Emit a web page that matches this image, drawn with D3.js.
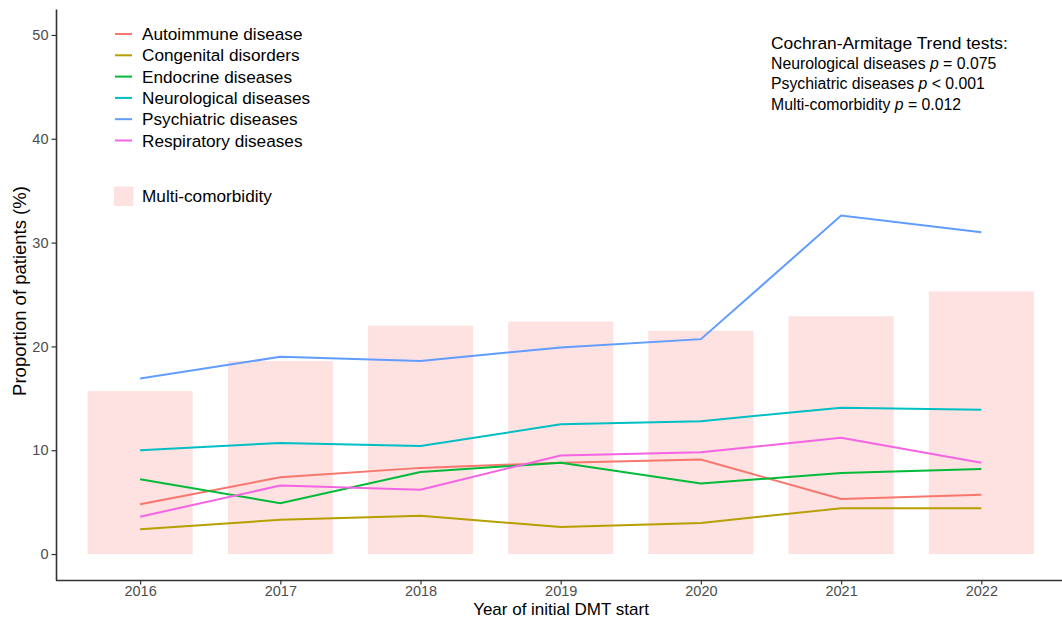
<!DOCTYPE html>
<html>
<head>
<meta charset="utf-8">
<script src="https://cdn.jsdelivr.net/npm/d3@7"></script>
<style>
  html, body { margin: 0; padding: 0; background: #fff; }
  svg { display: block; font-family: Arial, "Liberation Sans", sans-serif; }
</style>
</head>
<body>
<svg id="chart" width="1062" height="618"></svg>
<script>
// Years of initial DMT start
const years = ["2016", "2017", "2018", "2019", "2020", "2021", "2022"];

// Proportion of patients (%) with each comorbidity, per year
const autoimmune   = [4.8, 7.4, 8.3, 8.8, 9.1, 5.3, 5.7];
const congenital   = [2.4, 3.3, 3.7, 2.6, 3.0, 4.4, 4.4];
const endocrine    = [7.2, 4.9, 7.9, 8.8, 6.8, 7.8, 8.2];
const neurological = [10.0, 10.7, 10.4, 12.5, 12.8, 14.1, 13.9];
const psychiatric  = [16.9, 19.0, 18.6, 19.9, 20.7, 32.6, 31.0];
const respiratory  = [3.6, 6.6, 6.2, 9.5, 9.8, 11.2, 8.8];

// Multi-comorbidity (%), drawn as bars
const multiComorbidity = [15.7, 18.6, 22.0, 22.4, 21.5, 22.9, 25.3];

const seriesNames = ["Autoimmune disease", "Congenital disorders", "Endocrine diseases",
                     "Neurological diseases", "Psychiatric diseases", "Respiratory diseases"];
const seriesValues = [autoimmune, congenital, endocrine, neurological, psychiatric, respiratory];
const seriesColors = ["#F8766D", "#B79F00", "#00BA38", "#00BFC4", "#619CFF", "#F564E3"];

const yTicks = [0, 10, 20, 30, 40, 50];

const svg = d3.select("#chart");
const margin = { left: 56, top: 9, bottom: 580 };

// Discrete x positions with 0.6-step padding on each side
const step = 140.2;
const x0 = margin.left + 0.6 * step;
const x = d3.scaleLinear().domain([0, years.length - 1]).range([x0, x0 + step * (years.length - 1)]);
const y = d3.scaleLinear().domain([-2.5, 52.5]).range([margin.bottom, margin.top]);

const barFill = "#FDE2E1";
const barW = step * 0.75;

// Bars
svg.append("g").selectAll("rect")
  .data(multiComorbidity)
  .join("rect")
  .attr("x", (d, i) => x(i) - barW / 2)
  .attr("width", barW)
  .attr("y", d => y(d))
  .attr("height", d => y(0) - y(d))
  .attr("fill", barFill);

// Lines
const line = d3.line().x((d, i) => x(i)).y(d => y(d));
svg.append("g").selectAll("path")
  .data(seriesValues)
  .join("path")
  .attr("d", d => line(d))
  .attr("fill", "none")
  .attr("stroke", (d, i) => seriesColors[i])
  .attr("stroke-width", 2);

// Axes
const axisColor = "#333333";
const tickText = "#4D4D4D";
const yAxis = svg.append("g")
  .attr("transform", `translate(${margin.left},0)`)
  .call(d3.axisLeft(y).tickValues(yTicks).tickSize(4.5).tickPadding(3).tickSizeOuter(0));
const xAxis = svg.append("g")
  .attr("transform", `translate(0,${margin.bottom})`)
  .call(d3.axisBottom(x).tickValues(d3.range(years.length)).tickFormat(i => years[i])
        .tickSize(4.5).tickPadding(3).tickSizeOuter(0));
xAxis.select(".domain").attr("d", `M${margin.left},0.5H1062`);
[yAxis, xAxis].forEach(g => {
  g.select(".domain").attr("stroke", axisColor).attr("stroke-width", 1.6);
  g.selectAll(".tick line").attr("stroke", axisColor).attr("stroke-width", 1.2);
  g.selectAll(".tick text").attr("fill", tickText).style("font-size", "14.5px")
    .style("font-family", "Arial, 'Liberation Sans', sans-serif");
});
// Tick label baselines for the year axis
xAxis.selectAll(".tick text").attr("y", 15.5).attr("dy", null);

// Axis titles
svg.append("text")
  .attr("x", 561).attr("y", 614.5)
  .attr("text-anchor", "middle").attr("font-size", 17).attr("fill", "#000")
  .text("Year of initial DMT start");
svg.append("text")
  .attr("transform", "translate(26,291) rotate(-90)")
  .attr("text-anchor", "middle").attr("font-size", 18.5).attr("fill", "#000")
  .text("Proportion of patients (%)");

// Legend
const legend = svg.append("g");
seriesNames.forEach((name, i) => {
  const ly = 34 + i * 21.3;
  legend.append("line")
    .attr("x1", 115).attr("x2", 132).attr("y1", ly).attr("y2", ly)
    .attr("stroke", seriesColors[i]).attr("stroke-width", 2);
  legend.append("text")
    .attr("x", 142).attr("y", ly).attr("dy", "0.35em")
    .attr("font-size", 17.2).attr("fill", "#000").text(name);
});
legend.append("rect")
  .attr("x", 114).attr("y", 186.5).attr("width", 19.5).attr("height", 19.5)
  .attr("fill", barFill);
legend.append("text")
  .attr("x", 142).attr("y", 196).attr("dy", "0.35em")
  .attr("font-size", 17.2).attr("fill", "#000").text("Multi-comorbidity");

// Trend test annotation
const ann = svg.append("g").attr("font-size", 15.8).attr("fill", "#000");
ann.append("text").attr("x", 771).attr("y", 48.5).attr("font-size", 17.4)
  .text("Cochran-Armitage Trend tests:");
const tests = [
  ["Neurological diseases ", "= 0.075"],
  ["Psychiatric diseases ", "< 0.001"],
  ["Multi-comorbidity ", "= 0.012"]
];
tests.forEach((t, i) => {
  const tx = ann.append("text").attr("x", 771).attr("y", 68.5 + i * 20.5);
  tx.append("tspan").text(t[0]);
  tx.append("tspan").attr("font-style", "italic").text("p");
  tx.append("tspan").text(" " + t[1]);
});
</script>
</body>
</html>
